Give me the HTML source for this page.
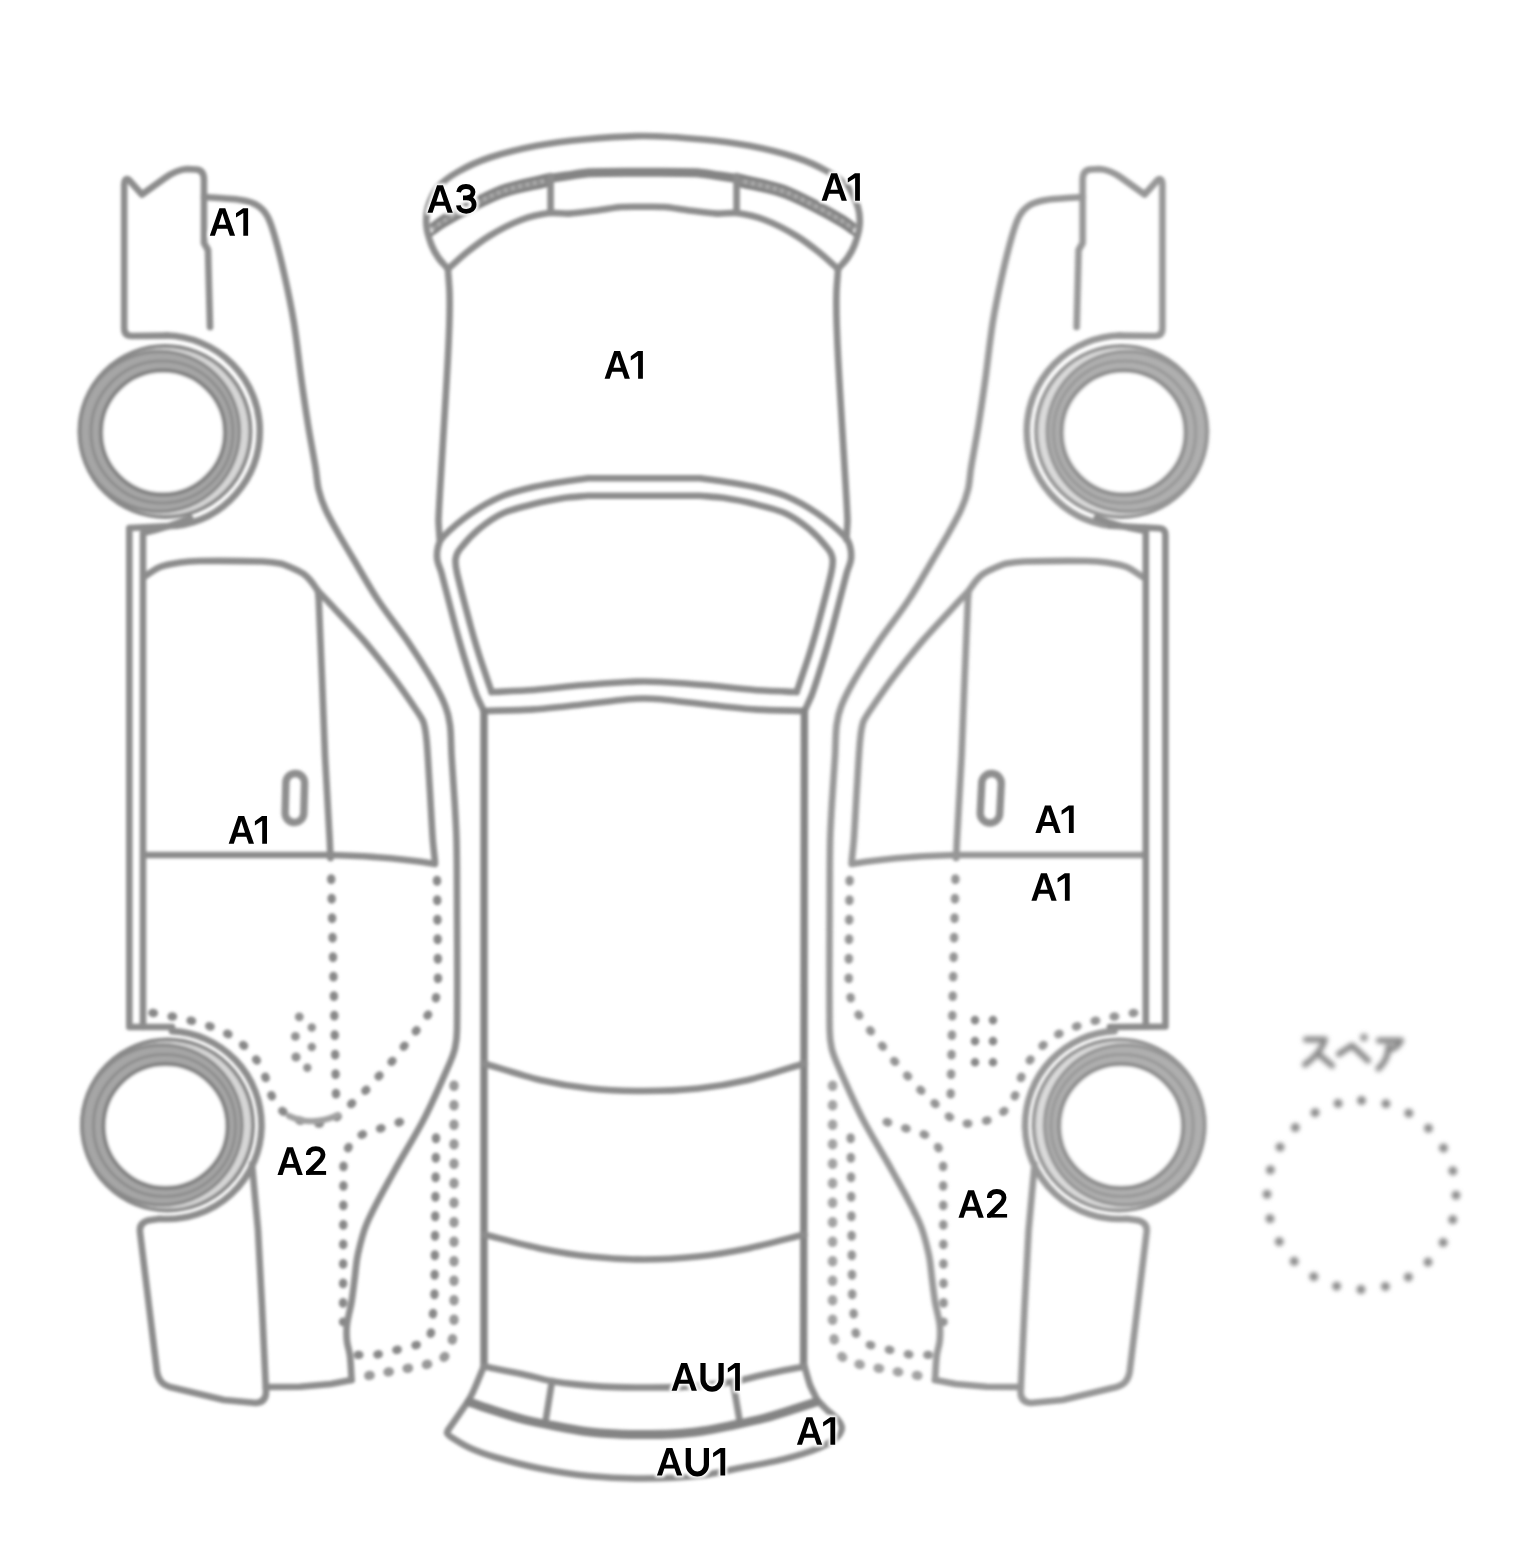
<!DOCTYPE html>
<html>
<head>
<meta charset="utf-8">
<title>Car inspection diagram</title>
<style>
html,body{margin:0;padding:0;background:#fff;}
body{width:1536px;height:1568px;overflow:hidden;font-family:"Liberation Sans",sans-serif;}
svg{display:block;}
.ln{fill:none;stroke:#8c8c8c;stroke-width:6.6;stroke-linecap:round;stroke-linejoin:round;}
.tk{fill:none;stroke:#848484;stroke-width:7.4;stroke-linecap:round;stroke-linejoin:round;}
.hv{fill:none;stroke:#848484;stroke-width:9;stroke-linecap:round;stroke-linejoin:round;}
.dt{fill:none;stroke:#888888;stroke-width:8.3;stroke-linecap:round;stroke-linejoin:round;stroke-dasharray:1.5 18;}
</style>
</head>
<body>
<svg width="1536" height="1568" viewBox="0 0 1536 1568">
<defs>
<filter id="bl" filterUnits="userSpaceOnUse" x="0" y="0" width="1536" height="1568"><feGaussianBlur stdDeviation="1.7"/></filter>
<filter id="bl2" filterUnits="userSpaceOnUse" x="0" y="0" width="1536" height="1568"><feGaussianBlur stdDeviation="1.5"/></filter>
<filter id="bl3" filterUnits="userSpaceOnUse" x="0" y="0" width="1536" height="1568"><feGaussianBlur stdDeviation="1.9"/></filter>
<filter id="bl4" filterUnits="userSpaceOnUse" x="0" y="0" width="1536" height="1568"><feGaussianBlur stdDeviation="2.4"/></filter>
<filter id="halo" filterUnits="userSpaceOnUse" x="0" y="0" width="1536" height="1568"><feMorphology in="SourceAlpha" operator="dilate" radius="1.6" result="d"/><feGaussianBlur in="d" stdDeviation="1.5" result="b"/><feFlood flood-color="#fff" result="w"/><feComposite in="w" in2="b" operator="in"/></filter>
<!-- glyphs -->
<path id="gA" fill-rule="evenodd" d="M0,0 L9.57,-27.6 L15.5,-27.6 L25.3,0 L20.05,0 L17.65,-7.06 L7.45,-7.06 L5.1,0 Z M8.85,-10.94 L16.3,-10.94 L12.55,-22.6 Z"/>
<path id="g1" d="M12.1,0 L7.3,0 L7.3,-22.9 L0,-18.3 L0,-22.5 L7.1,-27.6 L12.1,-27.6 Z"/>
<path id="gU" fill="none" stroke="#000" stroke-width="5.2" d="M2.6,-27.6 L2.6,-10.9 A9.05,9.3 0 0 0 20.7,-10.9 L20.7,-27.6"/>
<clipPath id="c2"><rect x="0.2" y="-30" width="21" height="30"/></clipPath>
<g id="g2" clip-path="url(#c2)"><path fill="none" stroke="#000" stroke-width="4.8" d="M2.5,-19.9 C2.5,-24 5.6,-26.3 10,-26.3 C14.4,-26.3 17.2,-23.9 17.2,-20.4 C17.2,-17.4 15.6,-15.2 12.3,-12 L0.8,-0.6"/><path d="M0.2,0 L0.2,-3.9 L20.3,-3.9 L20.3,0 Z"/></g>
<path id="g3" fill="none" stroke="#000" stroke-width="4.8" d="M2.6,-20.6 C3.2,-24.2 6,-26.3 10,-26.3 C14.2,-26.3 17,-24 17,-20.7 C17,-17.2 14.2,-15 10.3,-15 L7,-15 M10.3,-15 C15,-15 18.1,-12.3 18.1,-8.3 C18.1,-4.2 14.8,-1.5 10.2,-1.5 C5.6,-1.5 2.7,-3.8 2.4,-7.4"/>
<g id="LA1"><use href="#gA"/><use href="#g1" x="26.2"/></g>
<g id="LA2"><use href="#gA"/><use href="#g2" x="28.3"/></g>
<g id="LA3"><use href="#gA"/><use href="#g3" x="28.5"/></g>
<g id="LAU1"><use href="#gA"/><use href="#gU" x="28.8"/><use href="#g1" x="56.2"/></g>
<!-- wheel -->
<g id="wheel">
  <circle cx="3" cy="0" r="85.5" fill="#d6d6d6" stroke="none"/>
  <circle cx="-2.5" cy="0" r="80.5" fill="#a6a6a6" stroke="none"/>
  <circle cx="1" cy="1" r="61" fill="#fff" stroke="none"/>
  <circle cx="3" cy="0" r="85.5" fill="none" stroke="#888" stroke-width="4"/>
  <circle cx="-2.5" cy="0" r="80" fill="none" stroke="#8a8a8a" stroke-width="3.4"/>
  <circle cx="0" cy="0.5" r="71" fill="none" stroke="#8e8e8e" stroke-width="3.2"/>
  <circle cx="1" cy="1" r="62" fill="none" stroke="#848484" stroke-width="4.4"/>
</g>
<!-- LEFT SIDE VIEW (mirrored for right) -->
<g id="side">
<path class="ln" d="M210,327 L208,250 L204,243 L204,180 Q204,170 196,169.5 L187,169 Q176,170 165,178 L142,194.5 L129,180 Q124.5,177 124.2,185 L124.2,328 Q124.2,336 132,336 L168,335.6"/>
<path class="ln" d="M166,335.5 A95.5,95.5 0 0 1 259.8,431 A95.5,95.5 0 0 1 176,525.8"/>
<path class="ln" d="M204,197 C211,197.5 218,197.9 225,198.5 C230.2,198.9 235.5,199 240.6,200 C245.9,201.1 251.4,202 256,204.7 C260.4,207.3 264.4,211.1 267,215.6 C270.9,222.3 272.8,230 275,237.5 C278.6,249.9 281.6,262.4 284.4,275 C287.9,290.6 291.2,306.2 293.8,322 C296.9,341.3 298.7,360.7 301.4,380 C303.6,395.7 305.9,411.4 308.4,427 C310.6,440.5 313.3,454 315.5,467.5 C316.7,474.8 316.9,482.2 318.6,489.4 C320.3,496.4 322.7,503.2 325.6,509.7 C329.2,517.7 333.7,525.3 338,533 C343.1,542 348.5,550.8 353.8,559.7 C361.8,573.2 369.3,586.9 378,600 C387.9,615 399.3,628.9 409.4,643.8 C417.6,655.9 425.5,668.3 432.8,681 C437.5,689.1 441.9,697.3 445.3,706 C447.7,712.1 449.2,718.5 450,725 C451.3,735.3 451,745.7 451.6,756 C452.5,771.7 453.8,787.3 454.7,803 C455.4,815.3 456.2,827.7 456.5,840 C457,860 456.9,880 457,900 C457.1,943.3 457.6,986.7 457,1030 C456.9,1036 456.3,1042.1 455,1048 C453.9,1053 452,1057.8 450,1062.5 C442,1080.8 434.1,1099.2 425,1117 C415.4,1135.8 403.9,1153.5 393.8,1172 C384.5,1188.8 374.7,1205.4 367,1223 C362.6,1233.1 360.2,1244 357.8,1254.7 C356.1,1262.3 355.7,1270.2 354.7,1278 C353.7,1285.9 352.9,1293.8 351.6,1301.6 C350.3,1309.4 347.9,1317.1 346.9,1325 C346.3,1330.2 346.4,1335.4 346.9,1340.6 C347.4,1345.8 349.4,1350.8 350,1356 C350.9,1364 351.1,1372 351.6,1380"/>
<use href="#wheel" x="162" y="431.5"/>
<path class="ln" d="M144,577 C149.3,573.7 154.2,569.3 160,567 C166.3,564.4 173.2,563.5 180,562.5 C186.6,561.5 193.3,561.1 200,561 C220.7,560.7 241.3,560.9 262,561.5 C268,561.7 274.1,562.3 280,563.5 C283.8,564.3 287.4,565.9 291,567.5 C295.1,569.3 299.3,571 303,573.5 C305.7,575.3 307.9,577.6 310,580 C313,583.4 315.3,587.3 318,591 L318.75,600 L322,678 L325,756 L329.7,840 L330.5,858"/>
<path class="ln" d="M318,591 C320,593.1 324.6,597.9 326.6,600 C335,609.1 354.4,629.6 362.5,639 C370.1,647.8 386.7,668.7 393.8,678 C399.1,685.1 410.7,701.7 415.6,709 C417.6,711.9 422.2,718.7 423.4,722 C424.8,726.2 426.2,736.2 426.6,740.6 C427.7,751.5 429,776.6 429.7,787.5 C430.5,799.7 431.9,827.8 432.8,840 C433.2,845.1 434.5,856.9 435,862"/>
<path class="ln" d="M144,855 L325,855 Q390,856 435,864"/>
<use href="#wheel" x="164.5" y="1125"/>
<path class="ln" d="M172,1031.1 A94,94 0 0 1 261.5,1125 A94,94 0 0 1 160,1218.7 L148,1220.5 Q139,1223 140,1232 L157,1372 Q159,1384 170,1387 L224,1400 L256,1403 Q266,1402 266,1392 L262,1306 L258,1230 L252,1164"/>
<path class="ln" d="M266,1387 L300,1386.7 L331,1384 L351.6,1380"/>
<path class="dt" d="M331.2,878.5 L334,1000 L336,1095"/>
<path class="dt" d="M437,880 L438,975 C438,995 435,1005 429.7,1012.5 L417,1029.7 L393.75,1059.4 L368.75,1087.5 L340.6,1114 C333,1121 323,1124.5 314,1123.5 C298,1122 285,1115 277.5,1106 C271,1098 270,1090 265,1076 C258,1058 245,1044 228,1034 C210,1025 190,1019 147,1012"/>
<path class="dt" d="M400,1122 L362.5,1134.4 Q346,1142 343.5,1164 L343,1322"/>
<path class="dt" d="M436,1137.5 L434.4,1300 L431,1333 Q425,1343 413,1346 L376.6,1354.7 L354.7,1355"/>
<path class="dt" d="M454,1085 L454,1322 Q454,1350 441,1360 Q432,1364 409.4,1368 L371.9,1375 L356,1378" style="stroke-width:9.2;stroke:#989898"/>
</g>
</defs>

<g filter="url(#bl)">
<use href="#side"/>
<use href="#side" transform="translate(1286.7,0) scale(-1,1)" opacity="0.9"/>
<!-- door handles (top solid) -->
<rect x="285.5" y="773.5" width="18.7" height="49" rx="9.3" ry="9.3" class="tk" style="stroke-width:7.4;stroke:#8e8e8e" transform="rotate(1.5 295 798)"/>
<rect x="981" y="773.5" width="19.5" height="49.5" rx="9.7" ry="9.7" class="tk" style="stroke-width:7.4;stroke:#8e8e8e" transform="rotate(3 991 798)"/>
<!-- lower door handles (dotted) -->
<g fill="#909090"><circle cx="299.3" cy="1016.8" r="4.4"/><circle cx="295.4" cy="1036.4" r="4.4"/><circle cx="296" cy="1057" r="4.6"/><circle cx="311.8" cy="1027.5" r="4.2"/><circle cx="311.8" cy="1047" r="4.2"/><circle cx="307.3" cy="1067.7" r="4.2"/></g>
<path d="M289,1116 Q312,1127 338,1115" fill="none" stroke="#a0a0a0" stroke-width="6" stroke-linecap="round"/>
<path class="dt" d="M975,1020 L975,1064 M993,1020 L993,1064" style="stroke-dasharray:0.1 21;stroke-width:8.6"/>
<!-- CENTER TOP VIEW -->
<!-- sills -->
<path class="ln" d="M176,525.8 L129.3,528 L129.3,1027 L172,1027"/>
<path class="ln" d="M190,518 Q170,527 143,533 L143,1027"/>
<path class="ln" d="M1110.7,525.8 L1159,528.3 Q1165.4,528.6 1165.4,535 L1165.4,1026.5 L1110,1027"/>
<path class="ln" d="M1096.7,518 Q1116,526 1145.8,531 L1145.8,1026.5"/>
<path class="ln" d="M448,269 C444.7,265.2 441.1,261.7 438.2,257.5 C435.5,253.6 433.1,249.4 431.5,245 C429.2,238.9 427.1,232.5 426.5,226 C425.9,219.8 426.2,213.4 428,207.5 C430.2,200.2 433.3,192.8 438.2,187 C443.7,180.5 451.1,175.7 458.5,171.5 C468.5,165.8 479.1,161.1 490,157.5 C505.2,152.5 520.9,148.8 536.6,145.8 C552.1,142.8 567.8,140.9 583.5,139.5 C603.3,137.7 623.1,136 643,136 C662.9,136 682.7,137.7 702.5,139.5 C718.2,140.9 733.9,142.8 749.4,145.8 C765.1,148.8 780.8,152.5 796,157.5 C806.9,161.1 817.5,165.8 827.5,171.5 C834.9,175.7 842.3,180.5 847.8,187 C852.7,192.8 855.8,200.2 858,207.5 C859.8,213.4 860.1,219.8 859.5,226 C858.9,232.5 856.8,238.9 854.5,245 C852.9,249.4 850.5,253.6 847.8,257.5 C844.9,261.7 841.3,265.2 838,269"/>
<path class="ln" d="M448,269 C452.9,264.7 461.2,256.9 466.3,252.8 C472.4,247.9 483.3,239.6 490,235.6 C497.9,230.8 512.4,223.3 521,220 C528.2,217.2 541.4,214 549,213 C554.3,212.3 563.7,213.9 569,213.6 C577.3,213.1 591.7,211 600,210 C605.6,209.3 615.4,207.4 621,207 C626.9,206.6 637.1,206.8 643,206.8 C648.9,206.8 659.1,206.6 665,207 C670.6,207.4 680.4,209.3 686,210 C694.3,211 708.7,213.1 717,213.6 C722.3,213.9 731.7,212.3 737,213 C744.6,214 757.8,217.2 765,220 C773.6,223.3 788.1,230.8 796,235.6 C802.7,239.6 813.6,247.9 819.7,252.8 C824.8,256.9 833.1,264.7 838,269"/>
<path d="M432,229.5 C435.7,226.8 439.1,223.8 443,221.5 C453.1,215.4 463.4,209.7 474,204.4 C484.3,199.3 494.5,193.8 505.4,190.3 C519.6,185.7 534.5,183.4 549,180" fill="none" stroke="#929292" stroke-width="11.5" stroke-linecap="butt"/>
<path d="M432,229.5 C435.7,226.8 439.1,223.8 443,221.5 C453.1,215.4 463.4,209.7 474,204.4 C484.3,199.3 494.5,193.8 505.4,190.3 C519.6,185.7 534.5,183.4 549,180" fill="none" stroke="#b4b4b4" stroke-width="3.5" stroke-linecap="butt" stroke-dasharray="2.5 5"/>
<path d="M737,180 C751.5,183.4 766.4,185.7 780.6,190.3 C791.5,193.8 801.7,199.3 812,204.4 C822.6,209.7 832.9,215.4 843,221.5 C846.9,223.8 850.3,226.8 854,229.5" fill="none" stroke="#929292" stroke-width="11.5" stroke-linecap="butt"/>
<path d="M737,180 C751.5,183.4 766.4,185.7 780.6,190.3 C791.5,193.8 801.7,199.3 812,204.4 C822.6,209.7 832.9,215.4 843,221.5 C846.9,223.8 850.3,226.8 854,229.5" fill="none" stroke="#b4b4b4" stroke-width="3.5" stroke-linecap="butt" stroke-dasharray="2.5 5"/>
<path class="ln" d="M432,224.5 C435.7,221.8 439.1,218.8 443,216.5 C453.1,210.4 463.4,204.7 474,199.4 C484.3,194.3 494.5,188.8 505.4,185.3 C519.6,180.7 534.5,178.4 549,175" style="stroke-width:3.4;stroke:#808080"/>
<path class="ln" d="M432,234.5 C435.7,231.8 439.1,228.8 443,226.5 C453.1,220.4 463.4,214.7 474,209.4 C484.3,204.3 494.5,198.8 505.4,195.3 C519.6,190.7 534.5,188.4 549,185" style="stroke-width:3.4;stroke:#808080"/>
<path class="ln" d="M737,175 C751.5,178.4 766.4,180.7 780.6,185.3 C791.5,188.8 801.7,194.3 812,199.4 C822.6,204.7 832.9,210.4 843,216.5 C846.9,218.8 850.3,221.8 854,224.5" style="stroke-width:3.4;stroke:#808080"/>
<path class="ln" d="M737,185 C751.5,188.4 766.4,190.7 780.6,195.3 C791.5,198.8 801.7,204.3 812,209.4 C822.6,214.7 832.9,220.4 843,226.5 C846.9,228.8 850.3,231.8 854,234.5" style="stroke-width:3.4;stroke:#808080"/>
<path class="hv" d="M549,178.5 C554.7,177.7 560.3,176.8 566,176 C574,174.9 581.9,173.2 590,172.8 C607.6,171.9 625.3,172.2 643,172.2 C660.7,172.2 678.4,171.9 696,172.8 C704.1,173.2 712,174.9 720,176 C725.7,176.8 731.3,177.7 737,178.5"/>
<path class="ln" d="M550.6,176 L550.6,213 M736.6,176 L736.6,213"/>
<path class="ln" d="M448,270 C448.3,274.4 449.4,287.6 449.5,292 C449.7,298.6 449.5,318.4 449.3,325 C449.1,332 448.2,353 447.8,360 C447.4,368 446,392 445.5,400 C444.8,411.6 442.7,446.4 442,458 C441.3,470.4 438.9,507.6 438.5,520 C438.4,523.9 439.5,535.5 439.7,539.4"/>
<path class="ln" d="M838,270 C837.7,274.4 836.6,287.6 836.5,292 C836.3,298.6 836.5,318.4 836.7,325 C836.9,332 837.8,353 838.2,360 C838.6,368 840,392 840.5,400 C841.2,411.6 843.3,446.4 844,458 C844.7,470.4 847.1,507.6 847.5,520 C847.6,523.9 846.5,535.5 846.3,539.4"/>
<path class="ln" d="M483.8,711 C481.7,706.4 477.7,698.5 476,693.8 C472.3,683.5 466.6,665.2 463.4,654.7 C461.2,647.5 457.6,634.8 455.6,627.5 C451.7,613 445.4,587.5 441.5,573 C440.5,569.4 437.8,563.4 437.3,559.7 C436.8,556.3 437.2,550.3 438,547 C438.7,544.1 440.9,539.1 443,537 C449.8,530 463,518.9 471,513.4 C478.9,508 493.7,499.7 502.5,496 C510.5,492.6 525.3,489 533.8,487 C542,485.1 556.6,482.7 565,481.4 C571.2,480.4 582.2,479.1 588.4,478.3 L699.8,478.3  C706,479.1 717,480.4 723.2,481.4 C731.6,482.7 746.2,485.1 754.5,487 C762.9,489 777.7,492.6 785.7,496 C794.5,499.7 809.3,508 817.2,513.4 C825.2,518.9 838.4,530 845.2,537 C847.3,539.1 849.5,544.1 850.2,547 C851,550.3 851.4,556.3 850.9,559.7 C850.4,563.4 847.7,569.4 846.7,573 C842.8,587.5 836.5,613 832.6,627.5 C830.6,634.8 827,647.5 824.8,654.7 C821.6,665.2 815.9,683.5 812.2,693.8 C810.5,698.5 806.5,706.4 804.5,711"/>
<path class="ln" d="M483.8,711 C497.1,710.6 520.4,710.3 533.8,709.4 C546.3,708.6 568.1,706 580.6,704.7 C593.1,703.4 615,700.5 627.5,699.3 C631.9,698.9 639.7,698.5 644.1,698.5 C648.5,698.5 656.3,698.9 660.7,699.3 C673.2,700.5 695.1,703.4 707.6,704.7 C720.1,706 741.9,708.6 754.5,709.4 C767.8,710.3 791.1,710.6 804.5,711"/>
<path class="ln" d="M491.6,692 C490.7,689.5 489.2,685.3 488.4,682.8 C485.9,675.3 481.4,662.2 479,654.7 C476.7,647.5 473,634.8 471,627.5 C467.1,613 460.3,587.6 457,573 C456.2,569.3 455.1,562.5 455.6,558.8 C456,555.9 458.2,551.2 460,549 C464.5,543.2 473.4,533.7 479,529 C484.8,524.2 495.7,516.5 502.5,513.4 C510.4,509.8 525.3,506.1 533.8,504 C542,501.9 556.6,499.1 565,497.8 C571.2,496.9 582.2,496.3 588.4,495.7 L699.8,495.7  C706,496.3 717,496.9 723.2,497.8 C731.6,499.1 746.2,501.9 754.5,504 C762.9,506.1 777.8,509.8 785.7,513.4 C792.5,516.5 803.4,524.2 809.2,529 C814.8,533.7 823.7,543.2 828.2,549 C830,551.2 832.2,555.9 832.6,558.8 C833.1,562.5 832,569.3 831.2,573 C827.9,587.6 821.1,613 817.2,627.5 C815.2,634.8 811.5,647.5 809.2,654.7 C806.8,662.2 802.3,675.3 799.8,682.8 C799,685.3 797.5,689.5 796.6,692"/>
<path class="ln" d="M491.6,692 C502.8,691.5 522.5,690.8 533.8,690 C546.3,689.1 568.1,686.4 580.6,685.3 C593.1,684.2 615,682.7 627.5,682 C631.9,681.7 639.7,681.5 644.1,681.5 C648.5,681.5 656.3,681.7 660.7,682 C673.2,682.7 695.1,684.2 707.6,685.3 C720.1,686.4 741.9,689.1 754.5,690 C765.7,690.8 785.4,691.5 796.6,692"/>
<path class="tk" d="M484,712 L484,1366 M804.4,711 L803.6,1366"/>
<path class="ln" d="M484,1063.5 C498.9,1067.9 524.8,1076.4 540,1080 C553.2,1083.1 576.6,1087.1 590,1088.5 C604.3,1090 629.6,1091 644,1091 C658.4,1091 683.7,1090 698,1088.5 C711.4,1087.1 734.8,1083.1 748,1080 C763.3,1076.4 789.4,1067.9 804.4,1063.5"/>
<path class="ln" d="M484,1234.5 C498.9,1238.2 524.9,1245.3 540,1248.4 C553.2,1251.1 576.6,1255.1 590,1256.5 C604.3,1258 629.6,1259.5 644,1259.5 C658.4,1259.5 683.7,1258 698,1256.5 C711.4,1255.1 734.8,1251.1 748,1248.4 C763.2,1245.3 789.4,1238.2 804.4,1234.5"/>
<path class="ln" d="M484,1366.5 C494.6,1368.6 513.2,1372.1 523.8,1374.4 C531.3,1376 544.3,1380 552,1381.2 C565.3,1383.3 588.6,1385.7 602,1386.6 C613.2,1387.4 632.8,1387.5 644,1387.5 C655.2,1387.5 674.8,1387.4 686,1386.6 C699.4,1385.7 722.7,1383.3 736,1381.2 C743.7,1380 756.9,1376 764.5,1374.4 C775.1,1372.1 793.8,1368.6 804.4,1366.5"/>
<path class="ln" d="M552,1381 L545.6,1421 M733,1382 L740,1423"/>
<path class="ln" d="M484,1366 C482.2,1370.3 476.9,1383.2 475,1387.5 C473.9,1390.1 470.2,1397.6 468.8,1400 C464.9,1406.1 452.5,1423.8 448.4,1429.7"/>
<path class="ln" d="M804.4,1366 C805.5,1369.8 808.6,1381.3 810,1385 C811.2,1388.1 815.8,1397 817.2,1400"/>
<path class="ln" d="M448.4,1429.7 C448,1430.6 446.7,1432.1 447,1433 C447.5,1434.4 449.7,1436.2 451,1437 C455.9,1440.2 464.7,1445.6 470,1448 C476.3,1450.9 487.8,1455 494.5,1457 C506.5,1460.5 527.7,1466 540,1468.5 C553,1471.1 575.8,1474.7 589,1476 C603.3,1477.4 628.6,1478.6 643,1478.5 C658.2,1478.4 684.9,1477.1 700,1475.5 C710.8,1474.3 729.3,1470.1 740,1468 C751.5,1465.8 771.7,1462.3 783,1459.4 C792.8,1456.9 809.7,1451.9 819,1448 C824.4,1445.7 833.3,1440.4 837.7,1436.5 C839.6,1434.8 841.8,1430.5 841.8,1428 C841.8,1425.6 839.5,1421.8 838,1420 C835.2,1416.7 829.1,1412 826,1409 C823.6,1406.7 819.5,1402.4 817.2,1400"/>
<path class="hv" d="M469,1402 C475.3,1404.1 486.2,1408 492.5,1410 C500.8,1412.7 515.3,1417.3 523.8,1419.5 C532,1421.6 546.6,1424.4 555,1426 C563.2,1427.6 577.7,1430.4 586,1431.5 C594.4,1432.6 609.1,1433.6 617.5,1434 C624.6,1434.4 636.9,1434.5 644,1434.5 C651.5,1434.5 664.5,1434.4 672,1434 C680.2,1433.5 694.4,1432.2 702.5,1431 C710.9,1429.8 725.4,1426.7 733.8,1425 C742.1,1423.3 756.7,1420.2 765,1418 C773.4,1415.8 787.8,1411.1 796,1408.5 C801.4,1406.8 810.7,1403.7 816,1402"/>
</g>

<!-- spare -->
<g filter="url(#bl3)">
<circle cx="1361.5" cy="1195" r="94.5" fill="none" stroke="#8e8e8e" stroke-width="9" stroke-linecap="round" stroke-dasharray="0.1 24.64" transform="rotate(-90 1361.5 1195)"/>
</g>
<g filter="url(#bl4)" fill="none" stroke="#888" stroke-width="6" stroke-linecap="round" stroke-linejoin="round">
  <path d="M1306,1039.5 L1325,1039.5 Q1321,1053 1305,1064.5 M1319,1054.5 L1332,1065.5"/>
  <path d="M1339,1054 L1352,1045.5 L1368,1060.5"/>
  <circle cx="1364" cy="1037.5" r="2.2" stroke-width="3"/>
  <path d="M1379,1040.5 L1401,1040.5 Q1398,1047 1392,1049 M1388.5,1047 Q1388,1060 1378.5,1068.5"/>
</g>

<!-- labels -->
<g filter="url(#halo)">
<use href="#LA1" x="209.8" y="235.8"/>
<use href="#LA3" x="427.5" y="212.8"/>
<use href="#LA1" x="821.6" y="200.8"/>
<use href="#LA1" x="604.6" y="378.7"/>
<use href="#LA1" x="228.7" y="843.7"/>
<use href="#LA1" x="1035.4" y="833.0"/>
<use href="#LA1" x="1031.4" y="900.8"/>
<use href="#LA2" x="277.5" y="1174.9"/>
<use href="#LA2" x="958.5" y="1217.8"/>
<use href="#LAU1" x="671.6" y="1390.7"/>
<use href="#LA1" x="796.9" y="1444.8"/>
<use href="#LAU1" x="656.9" y="1475.6"/>
</g>
<g>
<use href="#LA1" x="209.8" y="235.8"/>
<use href="#LA3" x="427.5" y="212.8"/>
<use href="#LA1" x="821.6" y="200.8"/>
<use href="#LA1" x="604.6" y="378.7"/>
<use href="#LA1" x="228.7" y="843.7"/>
<use href="#LA1" x="1035.4" y="833.0"/>
<use href="#LA1" x="1031.4" y="900.8"/>
<use href="#LA2" x="277.5" y="1174.9"/>
<use href="#LA2" x="958.5" y="1217.8"/>
<use href="#LAU1" x="671.6" y="1390.7"/>
<use href="#LA1" x="796.9" y="1444.8"/>
<use href="#LAU1" x="656.9" y="1475.6"/>
</g>
</svg>
</body>
</html>
